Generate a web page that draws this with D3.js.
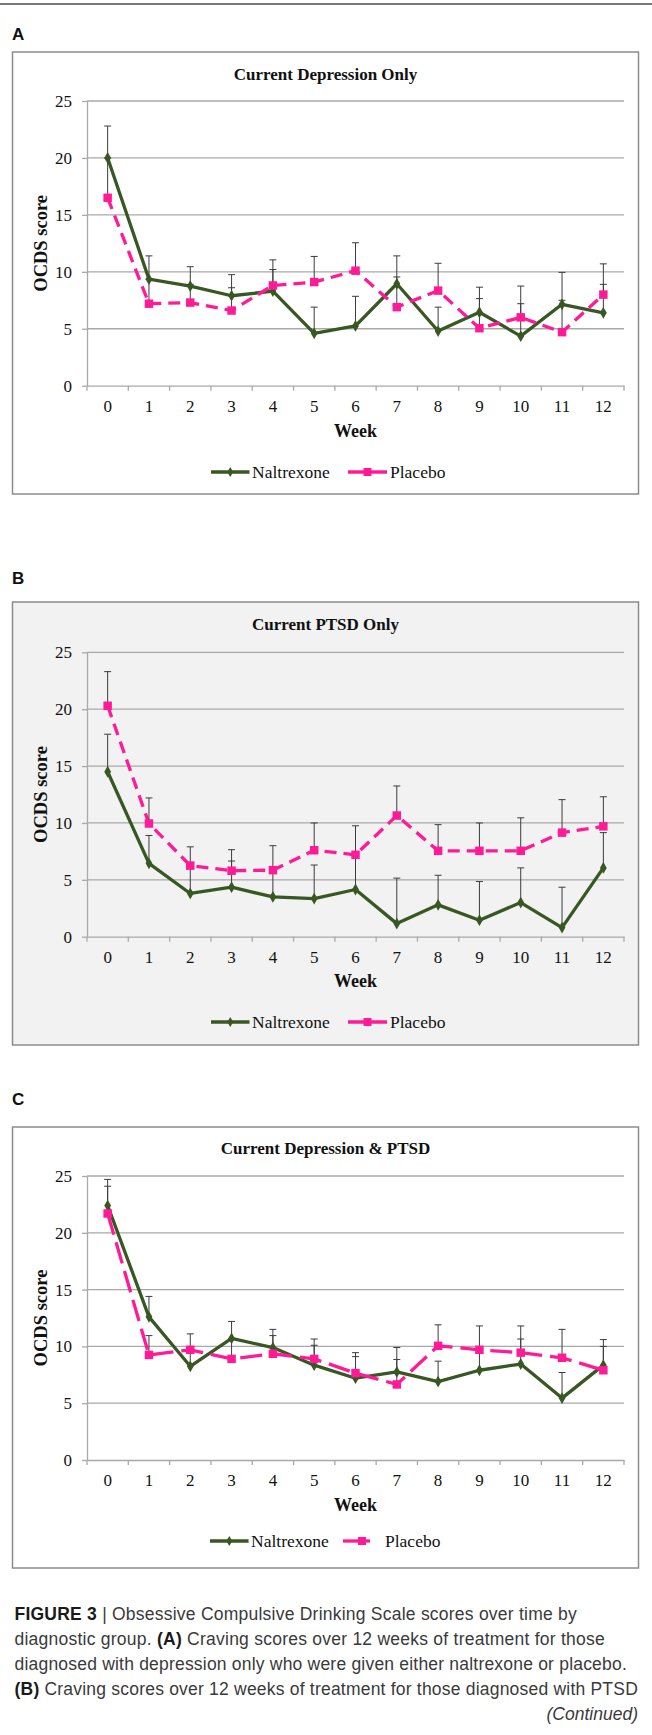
<!DOCTYPE html>
<html>
<head>
<meta charset="utf-8">
<script src="https://cdn.jsdelivr.net/npm/d3@7"></script>
<style>
  body { margin: 0; background: #fff; }
</style>
</head>
<body>
<div id="fig"></div>
<script>
// ---- data ----
var weeks = [0, 1, 2, 3, 4, 5, 6, 7, 8, 9, 10, 11, 12];
var yTicks = [0, 5, 10, 15, 20, 25];
var panelLetters = ["A", "B", "C"];
var panelTitles = ["Current Depression Only", "Current PTSD Only", "Current Depression & PTSD"];
var seriesNames = ["Naltrexone", "Placebo"];

// A: depression only
var naltrexoneA    = [20.0, 9.35, 8.75, 7.9, 8.3, 4.6, 5.25, 8.95, 4.8, 6.45, 4.35, 7.15, 6.4];
var naltrexoneErrA = [2.8, 2.05, 1.7, 1.85, 1.9, 2.3, 2.6, 2.45, 2.1, 2.2, 2.85, 2.8, 2.5];
var placeboA       = [16.5, 7.2, 7.3, 6.6, 8.8, 9.1, 10.1, 6.9, 8.35, 5.05, 6.0, 4.7, 8.0];
var placeboErrA    = [3.5, 2.15, 1.6, 2.0, 2.25, 2.25, 2.45, 2.65, 2.4, 2.6, 2.75, 2.8, 2.7];

// B: PTSD only
var naltrexoneB    = [14.5, 6.45, 3.8, 4.35, 3.5, 3.35, 4.15, 1.15, 2.8, 1.45, 3.0, 0.8, 6.05];
var naltrexoneErrB = [3.3, 2.45, 2.4, 2.3, 2.35, 2.95, 3.05, 4.0, 2.6, 3.4, 3.05, 3.55, 3.1];
var placeboB       = [20.3, 9.95, 6.25, 5.8, 5.85, 7.6, 7.2, 10.65, 7.55, 7.55, 7.55, 9.15, 9.7];
var placeboErrB    = [3.0, 2.25, 1.65, 1.85, 2.15, 2.4, 2.55, 2.6, 2.3, 2.45, 2.9, 2.9, 2.6];

// C: depression & PTSD
var naltrexoneC    = [22.4, 12.6, 8.25, 10.7, 9.9, 8.35, 7.2, 7.75, 6.9, 7.9, 8.45, 5.45, 8.35];
var naltrexoneErrC = [2.3, 1.8, 1.43, 1.5, 1.6, 2.3, 1.9, 2.15, 1.8, 1.8, 2.2, 2.25, 2.25];
var placeboC       = [21.7, 9.25, 9.7, 8.9, 9.35, 8.9, 7.65, 6.65, 10.05, 9.7, 9.45, 9.0, 7.9];
var placeboErrC    = [2.4, 1.7, 1.4, 1.8, 1.6, 1.2, 1.8, 2.2, 1.85, 2.1, 2.35, 2.5, 2.1];

var captionLines = [
  [["FIGURE 3", true], [" | Obsessive Compulsive Drinking Scale scores over time by", false]],
  [["diagnostic group. ", false], ["(A)", true], [" Craving scores over 12 weeks of treatment for those", false]],
  [["diagnosed with depression only who were given either naltrexone or placebo.", false]],
  [["(B)", true], [" Craving scores over 12 weeks of treatment for those diagnosed with PTSD", false]]
];

// ---- layout ----
var W = 652, H = 1735;
var green = "#385723", pink = "#ff1a96", gridColor = "#a9a9a9";
var serif = "'Liberation Serif', 'Times New Roman', serif";
var sans = "'Liberation Sans', Arial, sans-serif";

var panels = [
  {mean: [naltrexoneA, placeboA], err: [naltrexoneErrA, placeboErrA],
   letterY: 40, boxTop: 52, boxBottom: 494, titleY: 80, top: 101, bottom: 385.7,
   weekY: 437, legendY: 472, fill: "#fff", dash: "12,7",
   leg: {g0: 211, g1: 249.5, gt: 252, p0: 348, p1: 387, pm: 367.5, pt: 390}},
  {mean: [naltrexoneB, placeboB], err: [naltrexoneErrB, placeboErrB],
   letterY: 584, boxTop: 602, boxBottom: 1045, titleY: 630, top: 652.3, bottom: 936.7,
   weekY: 987, legendY: 1022, fill: "#f2f2f2", dash: "12,7",
   leg: {g0: 211, g1: 249.5, gt: 252, p0: 348, p1: 387, pm: 367.5, pt: 390}},
  {mean: [naltrexoneC, placeboC], err: [naltrexoneErrC, placeboErrC],
   letterY: 1105, boxTop: 1127, boxBottom: 1568, titleY: 1154, top: 1176, bottom: 1460,
   weekY: 1511, legendY: 1541, fill: "#fff", dash: "22,8",
   leg: {g0: 210, g1: 248.6, gt: 251, p0: 343, p1: 370, pm: 362, pt: 385}}
];

var svg = d3.select("#fig").append("svg")
  .attr("width", W)
  .attr("height", H)
  .style("display", "block");

svg.append("rect").attr("width", W).attr("height", H).attr("fill", "#fff");

// rule at the top of the page
svg.append("line")
  .attr("x1", 0).attr("x2", W).attr("y1", 4).attr("y2", 4)
  .attr("stroke", "#4d4d4d").attr("stroke-width", 1.6);

var x = d3.scaleBand().domain(weeks).range([87, 624]).padding(0);
var cx = function(w) { return x(w) + x.bandwidth() / 2; };

panels.forEach(function(p, i) {
  var g = svg.append("g");

  g.append("text")
    .attr("x", 12).attr("y", p.letterY)
    .attr("font-family", sans).attr("font-weight", "bold").attr("font-size", 17)
    .attr("fill", "#111")
    .text(panelLetters[i]);

  g.append("rect")
    .attr("x", 12.5).attr("y", p.boxTop)
    .attr("width", 626).attr("height", p.boxBottom - p.boxTop)
    .attr("fill", p.fill).attr("stroke", "#8c8c8c").attr("stroke-width", 1.5);

  g.append("text")
    .attr("x", 325.5).attr("y", p.titleY)
    .attr("text-anchor", "middle")
    .attr("font-family", serif).attr("font-weight", "bold").attr("font-size", 17)
    .attr("fill", "#111")
    .text(panelTitles[i]);

  var y = d3.scaleLinear().domain([0, 25]).range([p.bottom, p.top]);

  // gridlines
  g.selectAll(".grid").data(yTicks.filter(function(d) { return d > 0; }))
    .enter().append("line")
    .attr("x1", 87).attr("x2", 624)
    .attr("y1", function(d) { return y(d); }).attr("y2", function(d) { return y(d); })
    .attr("stroke", gridColor).attr("stroke-width", 1.3);

  // y axis
  var ya = g.append("g").attr("transform", "translate(87,0)")
    .call(d3.axisLeft(y).tickValues(yTicks).tickSizeInner(5).tickSizeOuter(0).tickPadding(10));
  ya.select(".domain").attr("stroke", gridColor).attr("stroke-width", 1.3);
  ya.selectAll(".tick line").attr("stroke", gridColor).attr("stroke-width", 1.3);
  ya.selectAll(".tick text").attr("font-family", serif).attr("font-size", 17).attr("fill", "#111");

  // x axis
  var xa = g.append("g").attr("transform", "translate(0," + p.bottom + ")")
    .call(d3.axisBottom(x).tickSizeInner(0).tickSizeOuter(0).tickPadding(14));
  xa.select(".domain").attr("stroke", gridColor).attr("stroke-width", 1.3);
  xa.selectAll(".tick text").attr("font-family", serif).attr("font-size", 17).attr("fill", "#111");
  g.selectAll(".xb").data(d3.range(weeks.length + 1))
    .enter().append("line")
    .attr("x1", function(k) { return 87 + k * x.step(); })
    .attr("x2", function(k) { return 87 + k * x.step(); })
    .attr("y1", p.bottom).attr("y2", p.bottom + 5)
    .attr("stroke", gridColor).attr("stroke-width", 1.3);

  g.append("text")
    .attr("transform", "translate(47," + ((p.top + p.bottom) / 2) + ") rotate(-90)")
    .attr("text-anchor", "middle")
    .attr("font-family", serif).attr("font-weight", "bold").attr("font-size", 18.5)
    .attr("fill", "#111")
    .text("OCDS score");

  g.append("text")
    .attr("x", 355.5).attr("y", p.weekY)
    .attr("text-anchor", "middle")
    .attr("font-family", serif).attr("font-weight", "bold").attr("font-size", 18)
    .attr("fill", "#111")
    .text("Week");

  // series lines
  var line = d3.line().x(function(d, k) { return cx(weeks[k]); }).y(function(d) { return y(d); });
  g.append("path").datum(p.mean[0]).attr("d", line)
    .attr("fill", "none").attr("stroke", green).attr("stroke-width", 3.3).attr("stroke-linejoin", "round");
  g.append("path").datum(p.mean[1]).attr("d", line)
    .attr("fill", "none").attr("stroke", pink).attr("stroke-width", 3.3)
    .attr("stroke-dasharray", p.dash);

  // error bars (upper only)
  [0, 1].forEach(function(s) {
    var eb = g.selectAll(".eb" + s).data(weeks).enter().append("g");
    eb.append("line")
      .attr("x1", function(w) { return cx(w); }).attr("x2", function(w) { return cx(w); })
      .attr("y1", function(w, k) { return y(p.mean[s][k]); })
      .attr("y2", function(w, k) { return y(p.mean[s][k] + p.err[s][k]); })
      .attr("stroke", "#3c3c3c").attr("stroke-width", 1);
    eb.append("line")
      .attr("x1", function(w) { return cx(w) - 3.5; }).attr("x2", function(w) { return cx(w) + 3.5; })
      .attr("y1", function(w, k) { return y(p.mean[s][k] + p.err[s][k]); })
      .attr("y2", function(w, k) { return y(p.mean[s][k] + p.err[s][k]); })
      .attr("stroke", "#3c3c3c").attr("stroke-width", 1);
  });

  // markers
  g.selectAll(".mk0").data(p.mean[0]).enter().append("path")
    .attr("d", d3.symbol().type(d3.symbolDiamond).size(40))
    .attr("transform", function(d, k) { return "translate(" + cx(weeks[k]) + "," + y(d) + ")"; })
    .attr("fill", green);
  g.selectAll(".mk1").data(p.mean[1]).enter().append("path")
    .attr("d", d3.symbol().type(d3.symbolSquare).size(72))
    .attr("transform", function(d, k) { return "translate(" + cx(weeks[k]) + "," + y(d) + ")"; })
    .attr("fill", pink);

  // legend
  var L = p.leg, ly = p.legendY;
  g.append("line").attr("x1", L.g0).attr("x2", L.g1).attr("y1", ly).attr("y2", ly)
    .attr("stroke", green).attr("stroke-width", 3.5);
  g.append("path").attr("d", d3.symbol().type(d3.symbolDiamond).size(30))
    .attr("transform", "translate(" + ((L.g0 + L.g1) / 2) + "," + ly + ")").attr("fill", green);
  g.append("text").attr("x", L.gt).attr("y", ly + 6)
    .attr("font-family", serif).attr("font-size", 17.5).attr("fill", "#111")
    .text(seriesNames[0]);
  g.append("line").attr("x1", L.p0).attr("x2", L.p1).attr("y1", ly).attr("y2", ly)
    .attr("stroke", pink).attr("stroke-width", 3.3);
  g.append("path").attr("d", d3.symbol().type(d3.symbolSquare).size(64))
    .attr("transform", "translate(" + L.pm + "," + ly + ")").attr("fill", pink);
  g.append("text").attr("x", L.pt).attr("y", ly + 6)
    .attr("font-family", serif).attr("font-size", 17.5).attr("fill", "#111")
    .text(seriesNames[1]);
});

// ---- caption ----
var capRight = [577, 605, 627, 638];
captionLines.forEach(function(parts, i) {
  var t = svg.append("text")
    .attr("x", 14.5).attr("y", 1620 + i * 25)
    .attr("font-family", sans).attr("font-size", 17.5).attr("fill", "#3a3a3a");
  parts.forEach(function(pt) {
    t.append("tspan")
      .attr("font-weight", pt[1] ? "bold" : "normal")
      .attr("fill", pt[1] ? "#1a1a1a" : "#3a3a3a")
      .text(pt[0]);
  });
  var nat = t.node().getComputedTextLength();
  var n = parts.map(function(pt) { return pt[0]; }).join("").length;
  t.attr("letter-spacing", ((capRight[i] - 14.5) - nat) / n);
});
svg.append("text")
  .attr("x", 638).attr("y", 1720)
  .attr("text-anchor", "end")
  .attr("font-family", sans).attr("font-style", "italic").attr("font-size", 17.5).attr("fill", "#3a3a3a")
  .text("(Continued)");
</script>
</body>
</html>
